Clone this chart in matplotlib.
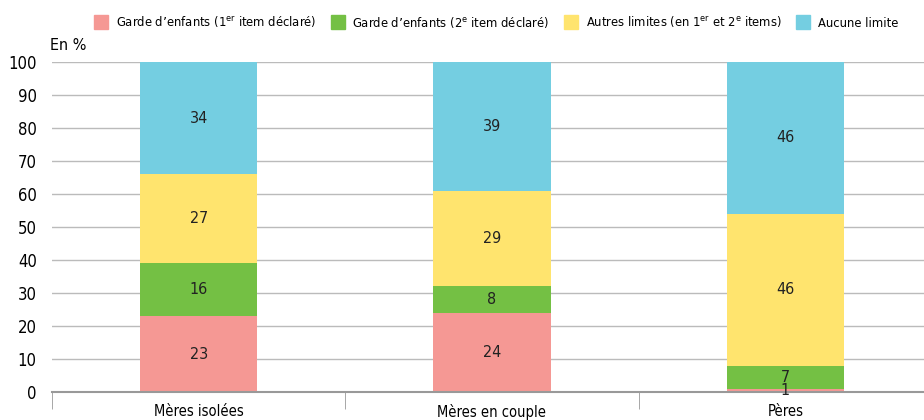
import numpy as np
import matplotlib.pyplot as plt
from matplotlib.patches import Patch

plt.rcParams['font.family'] = ['DejaVu Sans']
plt.rcParams['font.stretch'] = 'condensed'

categories = ['Mères isolées', 'Mères en couple', 'Pères']
garde1 = [23, 24, 1]
garde2 = [16, 8, 7]
autres = [27, 29, 46]
aucune = [34, 39, 46]
series = [garde1, garde2, autres, aucune]
labels = [r'Garde d’enfants (1$^{\mathregular{er}}$ item déclaré)',
          r'Garde d’enfants (2$^{\mathregular{e}}$ item déclaré)',
          r'Autres limites (en 1$^{\mathregular{er}}$ et 2$^{\mathregular{e}}$ items)',
          'Aucune limite']
colors = ['#F59894', '#74C044', '#FFE46E', '#74CEE1']

fig = plt.figure(figsize=(9.24, 4.2), dpi=100)
ax = fig.add_axes([52/924, 28/420, 880/924, 330/420])

x = np.arange(len(categories))
bottom = np.zeros(len(categories))
for vals, col in zip(series, colors):
    ax.bar(x, vals, 0.4, bottom=bottom, color=col, zorder=2)
    for xi, b, v in zip(x, bottom, vals):
        if v >= 5:
            ax.text(xi, b + v/2, str(v), ha='center', va='center', fontsize=11.5, color='#222222', zorder=3)
    bottom += vals

# petite valeur pour les pères
ax.text(x[2], 0.6, str(garde1[2]), ha='center', va='center', fontsize=11.5, color='#222222', zorder=3)

ax.set_xlim(-0.5, 2.5)
ax.set_ylim(0, 100)
ax.set_yticks(np.arange(0, 101, 10))
ax.yaxis.grid(True, color='#BBBBBB', linewidth=1, zorder=0)
ax.set_axisbelow(True)
for s in ['top', 'right', 'left']:
    ax.spines[s].set_visible(False)
ax.spines['bottom'].set_color('#999999')
ax.spines['bottom'].set_linewidth(1.5)
ax.tick_params(axis='y', length=0, labelsize=12, pad=11)
ax.set_xticks(x)
ax.set_xticklabels(categories, fontsize=10.5)
ax.tick_params(axis='x', length=0, pad=9)
ax.set_xticks([-0.5, 0.5, 1.5, 2.5], minor=True)
ax.tick_params(axis='x', which='minor', length=12, color='#999999')

fig.text(50/924, 1 - 45/420, 'En %', fontsize=11.5, ha='left', va='center')

handles = [Patch(color=c) for c in colors]
fig.legend(handles, labels, loc='center', bbox_to_anchor=(496/924, 1 - 22/420), ncol=4,
           frameon=False, fontsize=9.3, handlelength=1.1, handleheight=1.3,
           columnspacing=1.1, handletextpad=0.6)

fig.savefig('out.png', dpi=100)
